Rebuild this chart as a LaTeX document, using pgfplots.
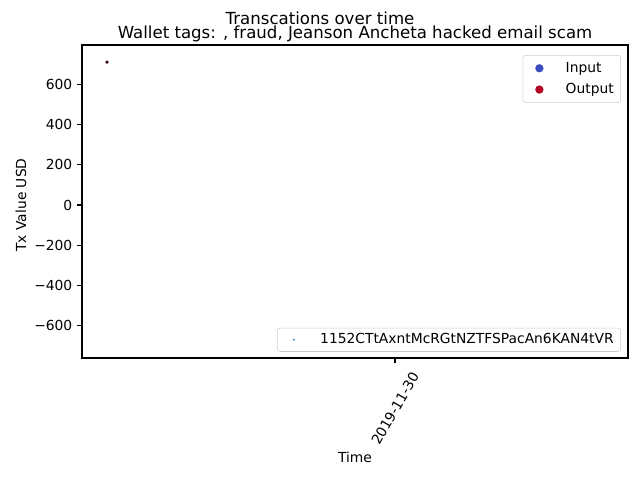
\documentclass[border=0pt]{standalone}
\usepackage{pgfplots}
\pgfplotsset{compat=1.18}
\usepackage{fontspec}
\setmainfont{DejaVu Sans}
\definecolor{cwblue}{HTML}{3B4CC0}
\definecolor{cwred}{HTML}{B40426}
\definecolor{tabblue}{HTML}{1F77B4}
\begin{document}
\begin{tikzpicture}
\path[use as bounding box] (-59.26pt,-88.17pt) rectangle ++(462.5pt,346.9pt);
\pgfplotsset{
  every axis/.append style={
    scale only axis, width=394.6pt, height=226.2pt,
    xmin=0, xmax=546, ymin=-762, ymax=797,
    /pgf/number format/assume math mode=true,
    tick label style={font=\fontsize{10}{12}\selectfont},
    legend style={font=\fontsize{10}{12}\selectfont, draw=black!20, rounded corners=2pt,
      fill=white, fill opacity=0.8, text opacity=1, inner xsep=3pt, inner ysep=3pt,
      row sep=2.5pt},
    legend cell align=left,
  },
  dotlegend/.style={legend image code/.code={
    \path[draw=none] (0pt,0pt) -- (26pt,0pt);
    \fill[#1, draw=none, fill opacity=1] (9pt,0pt) circle (3pt);}},
}
\begin{axis}[
  axis line style={line width=0.8pt},
  tick style={black, line width=0.8pt},
  tick align=outside, major tick length=3.5pt,
  xtick={313}, xticklabels={2019-11-30},
  xticklabel style={yshift=-33pt, rotate=60, anchor=center},
  xtick pos=bottom, ytick pos=left,
  ytick={-600,-400,-200,0,200,400,600},
  yticklabels={−600,−400,−200,0,200,400,600},
  legend style={at={(0.987,0.02)}, anchor=south east, inner ysep=2pt},
]
\addplot[only marks, mark=*, mark size=0.45pt, draw=none, mark options={draw=none, fill=tabblue},
  legend image code/.code={\path[draw=none] (0pt,0pt) -- (26pt,0pt); \fill[tabblue, draw=none, fill opacity=1] (9pt,0pt) circle (0.7pt);}] coordinates {(25,712)};
\addlegendentry{1152CTtAxntMcRGtNZTFSPacAn6KAN4tVR}
\end{axis}
\begin{axis}[
  hide axis,
  legend style={at={(0.987,0.968)}, anchor=north east},
]
\addlegendimage{dotlegend=cwblue}
\addlegendentry{Input}
\addlegendimage{dotlegend=cwred}
\addlegendentry{Output}
\addplot[only marks, mark=*, mark size=1.0pt, draw=none, mark options={draw=none, fill=cwred}, forget plot] coordinates {(25,712)};
\end{axis}
\node[font=\fontsize{12}{14}\selectfont] at (172.0pt,245.7pt) {Transcations over time};
\node[font=\fontsize{12}{14}\selectfont] at (197.3pt,234.2pt) {Wallet tags: , fraud, Jeanson Ancheta hacked email scam};
\node[font=\fontsize{10}{12}\selectfont, rotate=90] at (-44.1pt,110.6pt) {Tx Value USD};
\node[font=\fontsize{10}{12}\selectfont] at (197.3pt,-71.5pt) {Time};
\end{tikzpicture}
\end{document}
